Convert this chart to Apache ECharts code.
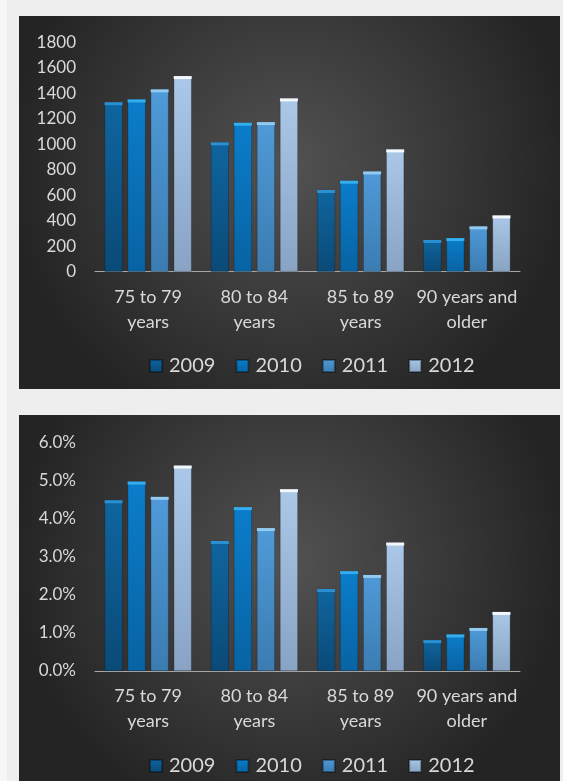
<!DOCTYPE html>
<html>
<head>
<meta charset="utf-8">
<script src="https://cdn.jsdelivr.net/npm/echarts@6/dist/echarts.min.js"></script>
<style>
  html, body { margin: 0; padding: 0; width: 563px; height: 781px; background: #eeeeee; overflow: hidden; }
  #strip { position: absolute; left: 0; top: 0; width: 7px; height: 781px; background: #f6f6f6; }
  #c1 { position: absolute; left: 19px; top: 16px; width: 541px; height: 373px; }
  #c2 { position: absolute; left: 19px; top: 415px; width: 541px; height: 366px; }
</style>
</head>
<body>
<div id="strip"></div>
<div id="c1"></div>
<div id="c2"></div>
<script>
const categories = ['75 to 79\nyears', '80 to 84\nyears', '85 to 89\nyears', '90 years and\nolder'];
const years = ['2009', '2010', '2011', '2012'];

const counts2009 = [1330, 1015, 641, 249];
const counts2010 = [1352, 1169, 714, 264];
const counts2011 = [1431, 1174, 787, 356];
const counts2012 = [1535, 1360, 960, 442];

const pct2009 = [4.48, 3.41, 2.15, 0.81];
const pct2010 = [4.97, 4.30, 2.62, 0.96];
const pct2011 = [4.57, 3.75, 2.52, 1.13];
const pct2012 = [5.39, 4.77, 3.37, 1.55];

const countTicks = { min: 0, max: 1800, interval: 200 };
const pctTicks = { min: 0, max: 6, interval: 1 };

const FONT = 'Lato, "Open Sans", sans-serif';
const TEXT = '#d9d9d9';
const barTop = ['#0f659f', '#0b7dcb', '#4f9ad8', '#abc8e8'];
const barBottom = ['#0a4a78', '#0863a3', '#3b7cb2', '#88a3c3'];
const capColor = ['#2a90d2', '#35aef0', '#92caf0', '#f4f8fc'];

function grad(i) {
  return new echarts.graphic.LinearGradient(0, 0, 0, 1, [
    { offset: 0, color: barTop[i] },
    { offset: 1, color: barBottom[i] }
  ]);
}

function makeOption(seriesData, ticks, fmt, gridTop, gridBottom, legendTop) {
  const series = [];
  seriesData.forEach((d, i) => {
    series.push({
      name: years[i], type: 'bar', data: d,
      barWidth: 18, barGap: '28%',
      itemStyle: { color: grad(i), borderColor: 'rgba(0,0,0,0.35)', borderWidth: 0.6 },
      z: 2
    });
  });
  seriesData.forEach((d, i) => {
    series.push({
      name: years[i] + ' cap', type: 'pictorialBar', data: d,
      barWidth: 18, barGap: '28%',
      symbol: 'rect', symbolSize: ['100%', 3], symbolPosition: 'end',
      itemStyle: { color: capColor[i] },
      z: 3, silent: true
    });
  });
  return {
    animation: false,
    backgroundColor: {
      type: 'radial', x: 0.5, y: 0.4, r: 0.75,
      colorStops: [{ offset: 0, color: '#525252' }, { offset: 1, color: '#242424' }]
    },
    grid: { left: 76, right: 40, top: gridTop, bottom: gridBottom, containLabel: false },
    legend: {
      data: years, left: 130, top: legendTop, padding: 0,
      icon: 'rect', itemWidth: 12, itemHeight: 12, itemGap: 20,
      textStyle: { color: TEXT, fontSize: 20, fontFamily: FONT, padding: [0, 0, 0, 2] }
    },
    xAxis: {
      type: 'category', data: categories,
      axisLine: { lineStyle: { color: '#a6a6a6', width: 1 } },
      axisTick: { show: false },
      axisLabel: { color: TEXT, fontSize: 18, fontFamily: FONT, lineHeight: 25, margin: 13, interval: 0 }
    },
    yAxis: {
      type: 'value', min: ticks.min, max: ticks.max, interval: ticks.interval,
      axisLine: { show: false }, axisTick: { show: false }, splitLine: { show: false },
      axisLabel: { color: TEXT, fontSize: 17, fontFamily: FONT, margin: 19, formatter: fmt }
    },
    series: series
  };
}

const chart1 = echarts.init(document.getElementById('c1'), null, { renderer: 'canvas' });
chart1.setOption(makeOption([counts2009, counts2010, counts2011, counts2012], countTicks,
  v => String(v), 26.3, 117.3, 340));

const chart2 = echarts.init(document.getElementById('c2'), null, { renderer: 'canvas' });
chart2.setOption(makeOption([pct2009, pct2010, pct2011, pct2012], pctTicks,
  v => v.toFixed(1) + '%', 27.3, 110, 341));
</script>
</body>
</html>
